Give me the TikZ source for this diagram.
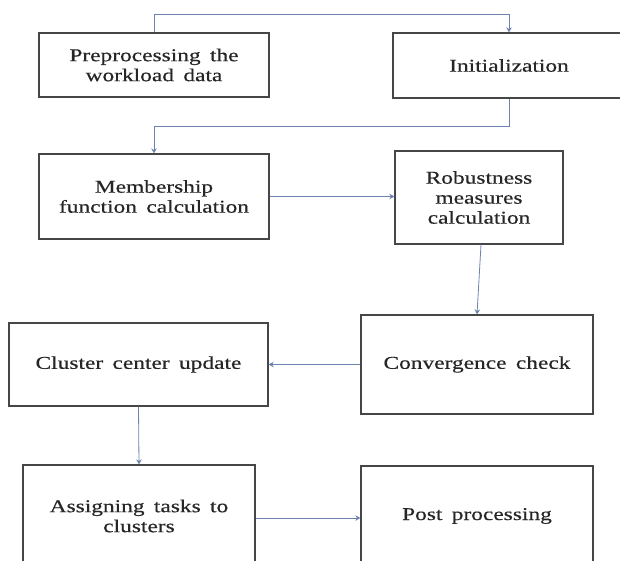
\documentclass[tikz,border=0pt]{standalone}
\usepackage{fontspec}
\setmainfont{Liberation Serif}[FakeStretch=1.3,FakeBold=0.4,WordSpace=1.6]
\usepackage{tikz}
\usepackage{xcolor}
\usetikzlibrary{arrows.meta}

\definecolor{linkblue}{RGB}{110,130,175}
\definecolor{boxgray}{RGB}{70,70,70}

\tikzset{
  stagebox/.style={draw=boxgray, line width=1.3pt, fill=white, align=center,
    inner sep=0pt, text=black!85, font=\fontsize{18}{20}\selectfont},
  link/.style={draw=linkblue, line width=0.8pt, -{Stealth[length=5pt,width=5.5pt]}}
}

\begin{document}
\begin{tikzpicture}[x=1pt,y=-1pt]
\clip (0,0) rectangle (620,561);
\fill[white] (0,0) rectangle (620,561);
% first row
\node[stagebox, minimum width=230pt, minimum height=64pt] (pre) at (154,65) {Preprocessing the\\workload data};
\node[stagebox, minimum width=232pt, minimum height=65pt] (init) at (509,65.5) {Initialization};
% second row
\node[stagebox, minimum width=230pt, minimum height=85pt] (memb) at (154,196.5) {Membership\\function calculation};
\node[stagebox, minimum width=168pt, minimum height=93pt] (robust) at (479,197.5) {Robustness\\measures\\calculation};
% third row
\node[stagebox, minimum width=259pt, minimum height=83pt] (center) at (138.5,364.5) {Cluster center update};
\node[stagebox, minimum width=232pt, minimum height=99pt] (conv) at (477,364.5) {Convergence check};
% fourth row
\node[stagebox, minimum width=232pt, minimum height=102pt] (assign) at (139,516) {Assigning tasks to\\clusters};
\node[stagebox, minimum width=232pt, minimum height=100pt] (post) at (477,516) {Post processing};
\coordinate (topline) at (0,14);
\coordinate (midline) at (0,126);
% connectors
\draw[link] (pre.north) -- (pre.north |- topline) -- (init.north |- topline) -- (init.north);
\draw[link] (init.south) -- (init.south |- midline) -- (memb.north |- midline) -- (memb.north);
\draw[link] (memb.east) -- (memb.east -| robust.west);
\draw[link] ([xshift=2pt]robust.south) -- (conv.north);
\draw[link] (conv.west) -- (conv.west -| center.east);
\draw[link] (center.south) -- (assign.north);
\draw[link] ([yshift=-2pt]assign.east) -- ([yshift=-2pt]assign.east -| post.west);
\end{tikzpicture}
\end{document}
